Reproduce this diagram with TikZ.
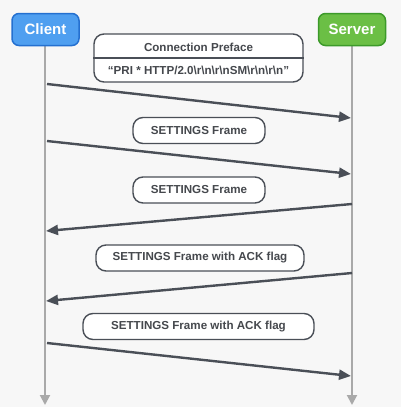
\documentclass[tikz,border=0pt]{standalone}
\usepackage{fontspec}
\setmainfont{Liberation Sans}
\usetikzlibrary{arrows.meta}
\definecolor{bg}{HTML}{F7F7F7}
\definecolor{ink}{HTML}{4A4F57}
\definecolor{txt}{HTML}{45484D}
\definecolor{life}{HTML}{A9A9A9}
\definecolor{cfill}{HTML}{4F9FF0}
\definecolor{cline}{HTML}{2470D0}
\definecolor{sfill}{HTML}{6BBF45}
\definecolor{sline}{HTML}{3C9A2A}
\tikzset{
  actor/.style={draw, line width=1.5pt, rounded corners=7pt, minimum width=67pt, minimum height=32pt,
    inner sep=0pt, text=white, font=\fontsize{15}{18}\selectfont\bfseries},
  msgbox/.style={draw=ink, fill=white, line width=1.4pt, rounded corners=10pt, minimum height=26pt,
    inner sep=0pt, text=txt, font=\fontsize{11.6}{14}\selectfont\bfseries},
  lifeline/.style={life, line width=2pt, -{Triangle[length=10pt,width=10pt]}},
  msg/.style={ink, line width=2.4pt, -{Triangle[length=12pt,width=10pt]}},
  lbl/.style={text=txt, font=\fontsize{11.6}{14}\selectfont\bfseries, inner sep=0pt}
}
\begin{document}
\begin{tikzpicture}[x=1pt,y=-1pt]
\fill[bg] (0,0) rectangle (401,407);
\useasboundingbox (0,0) rectangle (401,407);
% lifelines
\coordinate (cl0) at (45,46);
\coordinate (cl1) at (45,405);
\coordinate (sl0) at (352,46);
\coordinate (sl1) at (352,405);
\draw[lifeline] (cl0) -- (cl1);
\draw[lifeline] (sl0) -- (sl1);
% actors
\node[actor, fill=cfill, draw=cline] (client) at (45.5,29.5) {Client};
\node[actor, fill=sfill, draw=sline] (server) at (352,29.5) {Server};
% connection preface
\node[msgbox, minimum width=209pt, minimum height=48pt] (pref) at (198.5,58) {};
\draw[ink, line width=1.2pt] (pref.west) -- (pref.east);
\node[lbl] (preft) at (198.5,47) {Connection Preface};
\node[lbl] (prefm) at (198.5,70) {“PRI * HTTP/2.0\textbackslash r\textbackslash n\textbackslash r\textbackslash nSM\textbackslash r\textbackslash n\textbackslash r\textbackslash n”};
% message boxes
\node[msgbox, minimum width=132pt] (set1) at (199,130.5) {SETTINGS Frame};
\node[msgbox, minimum width=132pt] (set2) at (199,190) {SETTINGS Frame};
\node[msgbox, minimum width=208pt] (ack1) at (200,258) {SETTINGS Frame with ACK flag};
\node[msgbox, minimum width=231pt] (ack2) at (198.5,326.5) {SETTINGS Frame with ACK flag};
% message endpoints
\coordinate (c1) at (47,84);   \coordinate (s1) at (351,118);
\coordinate (c2) at (47,141);  \coordinate (s2) at (351,174);
\coordinate (s3) at (352,204); \coordinate (c3) at (46,231);
\coordinate (s4) at (352,273); \coordinate (c4) at (46,301);
\coordinate (c5) at (47,343);  \coordinate (s5) at (351,376);
\draw[msg] (c1) -- (s1);
\draw[msg] (c2) -- (s2);
\draw[msg] (s3) -- (c3);
\draw[msg] (s4) -- (c4);
\draw[msg] (c5) -- (s5);
\end{tikzpicture}
\end{document}
